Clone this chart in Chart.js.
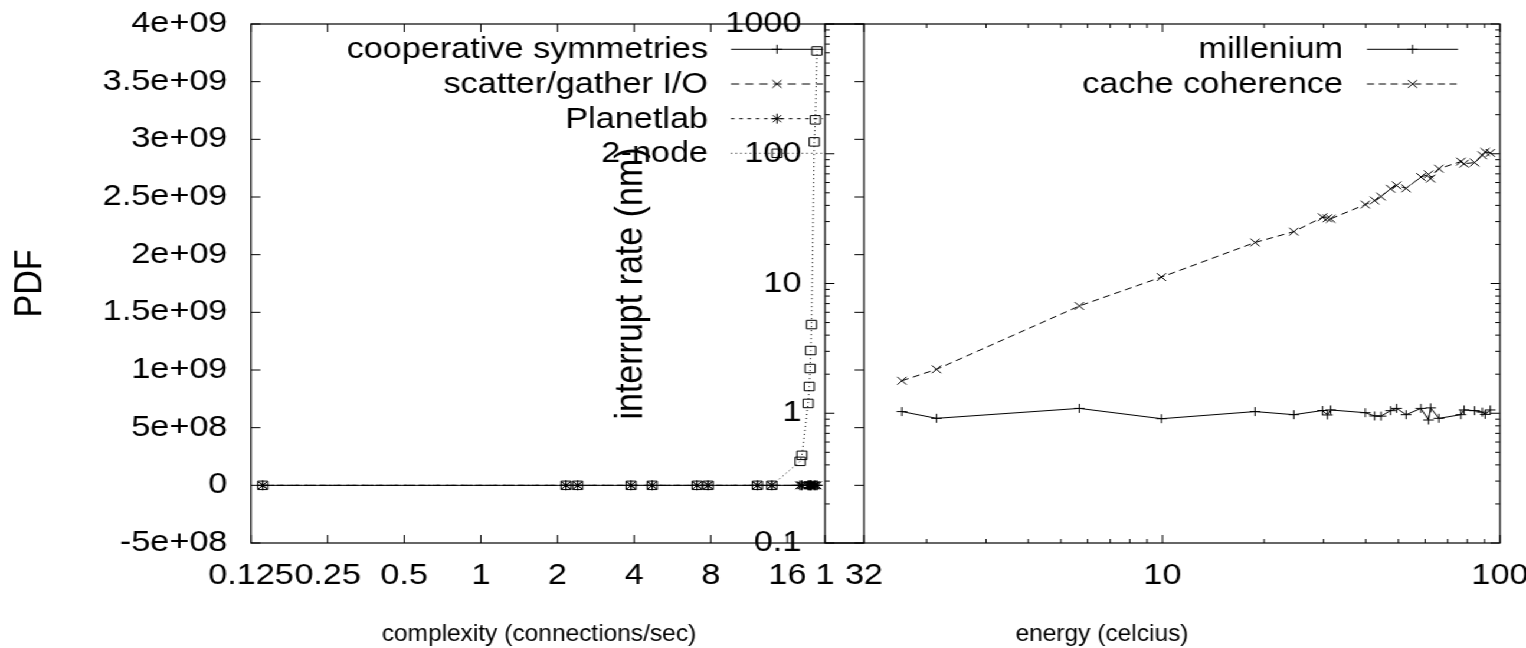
<!DOCTYPE html>
<html>
<head>
<meta charset="utf-8">
<title>PDF / interrupt rate</title>
<script src="https://cdn.jsdelivr.net/npm/chart.js@4.4.1/dist/chart.umd.min.js"></script>
<style>
  html, body { margin: 0; padding: 0; background: #fff; overflow: hidden; }
  #wrap { position: absolute; left: 0; top: 0; width: 1293px; height: 648px; transform: scaleX(1.1802); transform-origin: 0 0; }
  #wrap canvas { position: absolute; left: 0; top: 0; }
</style>
</head>
<body>
<div id="wrap">
  <canvas id="chart-pdf" width="1293" height="648"></canvas>
  <canvas id="chart-rate" width="1293" height="648"></canvas>
</div>
<script>
(function () {
  "use strict";

  // panel izquierdo: complexity (connections/sec) vs PDF
  const COMPLEXITY = [0.139, 2.16, 2.40, 3.89, 4.71, 7.07, 7.81, 12.2, 13.9, 17.96, 18.25, 19.3, 19.5, 19.65, 19.75, 19.9, 20.4, 20.6, 20.9];
  const COOPERATIVE = [0, 0, 0, 0, 0, 0, 0, 0, 0, 0, 0, 0, 0, 0, 0, 0, 0, 0, 0];
  const SCATTER_GATHER = [0, 0, 0, 0, 0, 0, 0, 0, 0, 0, 0, 0, 0, 0, 0, 0, 0, 0, 0];
  const PLANETLAB = [0, 0, 0, 0, 0, 0, 0, 0, 0, 0, 0, 0, 0, 0, 0, 0, 0, 0, 0];
  const TWO_NODE = [0, 0, 0, 0, 0, 0, 0, 0, 0, 2.08e8, 2.6e8, 7.1e8, 8.57e8, 1.013e9, 1.169e9, 1.394e9, 2.978e9, 3.169e9, 3.766e9];
  const COMPLEXITY_TICKS = [0.125, 0.25, 0.5, 1, 2, 4, 8, 16, 32];
  const COMPLEXITY_LABELS = ["0.125", "0.25", "0.5", "1", "2", "4", "8", "16", "32"];
  const PDF_TICKS = [-5e8, 0, 5e8, 1e9, 1.5e9, 2e9, 2.5e9, 3e9, 3.5e9, 4e9];
  const PDF_LABELS = ["-5e+08", "0", "5e+08", "1e+09", "1.5e+09", "2e+09", "2.5e+09", "3e+09", "3.5e+09", "4e+09"];

  // panel derecho: energy (celcius) vs interrupt rate (nm)
  const ENERGY = [1.69, 2.14, 5.67, 9.93, 18.8, 24.5, 29.8, 30.8, 31.5, 39.9, 42.5, 44.4, 47.4, 49.4, 52.7, 58.3, 61.4, 62.3, 65.9, 76.6, 78.3, 84.1, 88.6, 90.4, 93.6];
  const MILLENIUM = [1.03, 0.914, 1.09, 0.908, 1.03, 0.975, 1.05, 0.97, 1.06, 1.01, 0.953, 0.95, 1.047, 1.09, 0.975, 1.09, 0.887, 1.10, 0.914, 0.975, 1.06, 1.047, 1.02, 0.98, 1.06];
  const CACHE_COHERENCE = [1.78, 2.18, 6.71, 11.2, 20.7, 25.1, 32.4, 31.8, 31.5, 40.6, 43.6, 46.8, 53.7, 57.0, 54.1, 66.2, 69.3, 64.3, 76.7, 87.0, 83.8, 85.5, 97.3, 103.3, 101.5];
  const ENERGY_TICKS = [1, 10, 100];
  const ENERGY_LABELS = ["1", "10", "100"];
  const RATE_TICKS = [0.1, 1, 10, 100, 1000];
  const RATE_LABELS = ["0.1", "1", "10", "100", "1000"];

  const W = 1293;
  const SX = 1526 / W; // el original está estirado en horizontal
  const px = (x) => x / SX;
  const FONT = "'Liberation Sans', Arial, Helvetica, sans-serif";
  const FS = 29;
  const TITLE_FS = 34;

  Chart.defaults.font.family = FONT;
  Chart.defaults.font.size = FS;
  Chart.defaults.color = "#000";

  function minorLog(lo, hi) {
    const out = [];
    for (let d = lo; d < hi; d *= 10) {
      for (let k = 2; k <= 9; k++) out.push(d * k);
    }
    return out;
  }

  function drawMarker(ctx, style, r, x, y) {
    ctx.beginPath();
    if (style === "cross" || style === "star") {
      ctx.moveTo(x - r, y); ctx.lineTo(x + r, y);
      ctx.moveTo(x, y - r); ctx.lineTo(x, y + r);
    }
    if (style === "crossRot" || style === "star") {
      const d = r * Math.SQRT1_2;
      ctx.moveTo(x - d, y - d); ctx.lineTo(x + d, y + d);
      ctx.moveTo(x - d, y + d); ctx.lineTo(x + d, y - d);
    }
    if (style === "rect") {
      const d = r * Math.SQRT1_2;
      ctx.rect(x - d, y - d, 2 * d, 2 * d);
    }
    ctx.stroke();
  }

  // marco, ticks hacia adentro, leyenda y título del eje x estilo gnuplot
  const gnuplotFrame = {
    id: "gnuplotFrame",
    afterDatasetsDraw(chart, args, opts) {
      const { ctx, chartArea: a } = chart;
      const sx = chart.scales.x;
      const sy = chart.scales.y;
      ctx.save();
      ctx.strokeStyle = "#000";
      ctx.setLineDash([]);
      ctx.lineWidth = 1.2;
      ctx.strokeRect(a.left, a.top, a.right - a.left, a.bottom - a.top);

      ctx.lineWidth = 1;
      ctx.beginPath();
      const tickX = (v, len) => {
        const p = sx.getPixelForValue(v);
        if (p < a.left - 0.5 || p > a.right + 0.5) return;
        ctx.moveTo(p, a.bottom); ctx.lineTo(p, a.bottom - len);
        ctx.moveTo(p, a.top); ctx.lineTo(p, a.top + len);
      };
      const tickY = (v, len) => {
        const p = sy.getPixelForValue(v);
        if (p < a.top - 0.5 || p > a.bottom + 0.5) return;
        ctx.moveTo(a.left, p); ctx.lineTo(a.left + len, p);
        ctx.moveTo(a.right, p); ctx.lineTo(a.right - len, p);
      };
      sx.ticks.forEach((t) => tickX(t.value, 8));
      sy.ticks.forEach((t) => tickY(t.value, 8));
      (opts.minorX || []).forEach((v) => tickX(v, 4));
      (opts.minorY || []).forEach((v) => tickY(v, 4));
      ctx.stroke();

      ctx.fillStyle = "#000";
      const lg = opts.legend;
      if (lg) {
        ctx.font = `${FS}px ${FONT}`;
        ctx.textAlign = "right";
        ctx.textBaseline = "middle";
        chart.data.datasets.forEach((ds, i) => {
          const y = lg.rows[i];
          ctx.fillText(ds.label, lg.textRight, y + 1);
          ctx.setLineDash(ds.borderDash || []);
          ctx.beginPath();
          ctx.moveTo(lg.x1, y);
          ctx.lineTo(lg.x2, y);
          ctx.stroke();
          ctx.setLineDash([]);
          drawMarker(ctx, ds.pointStyle, ds.pointRadius, lg.xm, y);
        });
      }

      const xt = opts.xTitle;
      if (xt) {
        ctx.save();
        ctx.font = `${xt.size}px ${FONT}`;
        ctx.textAlign = "center";
        ctx.textBaseline = "middle";
        ctx.translate(xt.x, xt.y);
        ctx.scale(xt.squeeze, 1);
        ctx.fillText(xt.text, 0, 0);
        ctx.restore();
      }
      ctx.restore();
    },
  };

  function series(label, xs, ys, style, radius, dash) {
    return {
      label,
      data: xs.map((x, i) => ({ x, y: ys[i] })),
      borderColor: "#000",
      borderWidth: 1,
      borderDash: dash,
      pointStyle: style,
      pointRadius: radius,
      pointBorderColor: "#000",
      pointBackgroundColor: "rgba(0,0,0,0)",
      pointBorderWidth: 1,
      tension: 0,
      fill: false,
    };
  }

  function axisX(min, max, ticks, labels) {
    return {
      type: "logarithmic",
      min,
      max,
      afterBuildTicks(s) { s.ticks = ticks.map((v) => ({ value: v })); },
      afterFit(s) { s.height = 105; s.paddingLeft = 0; s.paddingRight = 0; },
      grid: { display: false, drawTicks: false },
      border: { display: false },
      ticks: { autoSkip: false, maxRotation: 0, minRotation: 0, padding: 16, callback: (v, i) => labels[i] },
    };
  }

  function axisY(type, min, max, ticks, labels, width, title, titleX) {
    return {
      type,
      min,
      max,
      afterBuildTicks(s) { s.ticks = ticks.map((v) => ({ value: v })); },
      afterFit(s) { s.width = width; s.paddingTop = 0; s.paddingBottom = 0; },
      grid: { display: false, drawTicks: false },
      border: { display: false },
      ticks: { autoSkip: false, padding: 20, callback: (v, i) => labels[i] },
      title: {
        display: true,
        text: title,
        font: { size: TITLE_FS },
        padding: { top: titleX - (TITLE_FS * 1.2) / 2, bottom: 0 },
      },
    };
  }

  const common = {
    responsive: false,
    animation: false,
    devicePixelRatio: 1,
    events: [],
  };

  // el título x del original no está estirado: ~24.5 px/em en ambos sentidos
  const X_TITLE_SIZE = 24.5;
  const X_TITLE_SQUEEZE = 1 / SX;

  new Chart(document.getElementById("chart-pdf"), {
    type: "line",
    data: {
      datasets: [
        series("cooperative symmetries", COMPLEXITY, COOPERATIVE, "cross", 4.5, []),
        series("scatter/gather I/O", COMPLEXITY, SCATTER_GATHER, "crossRot", 5.5, [7, 5]),
        series("Planetlab", COMPLEXITY, PLANETLAB, "star", 5, [3, 4]),
        series("2-node", COMPLEXITY, TWO_NODE, "rect", 6, [1, 3]),
      ],
    },
    options: {
      ...common,
      layout: { padding: { left: 0, top: 24, right: W - px(864), bottom: 0 } },
      scales: {
        x: axisX(0.125, 32, COMPLEXITY_TICKS, COMPLEXITY_LABELS),
        y: axisY("linear", -5e8, 4e9, PDF_TICKS, PDF_LABELS, px(251), "PDF", px(30)),
      },
      plugins: {
        legend: { display: false },
        tooltip: { enabled: false },
        gnuplotFrame: {
          legend: { textRight: px(708), x1: px(731), x2: px(823), xm: px(777), rows: [49.3, 84, 118.7, 153.3] },
          xTitle: { text: "complexity (connections/sec)", x: px(539), y: 634, size: X_TITLE_SIZE, squeeze: X_TITLE_SQUEEZE },
        },
      },
    },
    plugins: [gnuplotFrame],
  });

  new Chart(document.getElementById("chart-rate"), {
    type: "line",
    data: {
      datasets: [
        series("millenium", ENERGY, MILLENIUM, "cross", 4.5, []),
        series("cache coherence", ENERGY, CACHE_COHERENCE, "crossRot", 5.5, [6, 4]),
      ],
    },
    options: {
      ...common,
      layout: { padding: { left: 0, top: 24, right: W - px(1500), bottom: 0 } },
      scales: {
        x: axisX(1, 100, ENERGY_TICKS, ENERGY_LABELS),
        y: axisY("logarithmic", 0.1, 1000, RATE_TICKS, RATE_LABELS, px(825), "interrupt rate (nm)", px(631)),
      },
      plugins: {
        legend: { display: false },
        tooltip: { enabled: false },
        gnuplotFrame: {
          minorX: minorLog(1, 100),
          minorY: minorLog(0.1, 1000),
          legend: { textRight: px(1343), x1: px(1367), x2: px(1458), xm: px(1412.5), rows: [49.3, 84] },
          xTitle: { text: "energy (celcius)", x: px(1102), y: 634, size: X_TITLE_SIZE, squeeze: X_TITLE_SQUEEZE },
        },
      },
    },
    plugins: [gnuplotFrame],
  });
})();
</script>
</body>
</html>
